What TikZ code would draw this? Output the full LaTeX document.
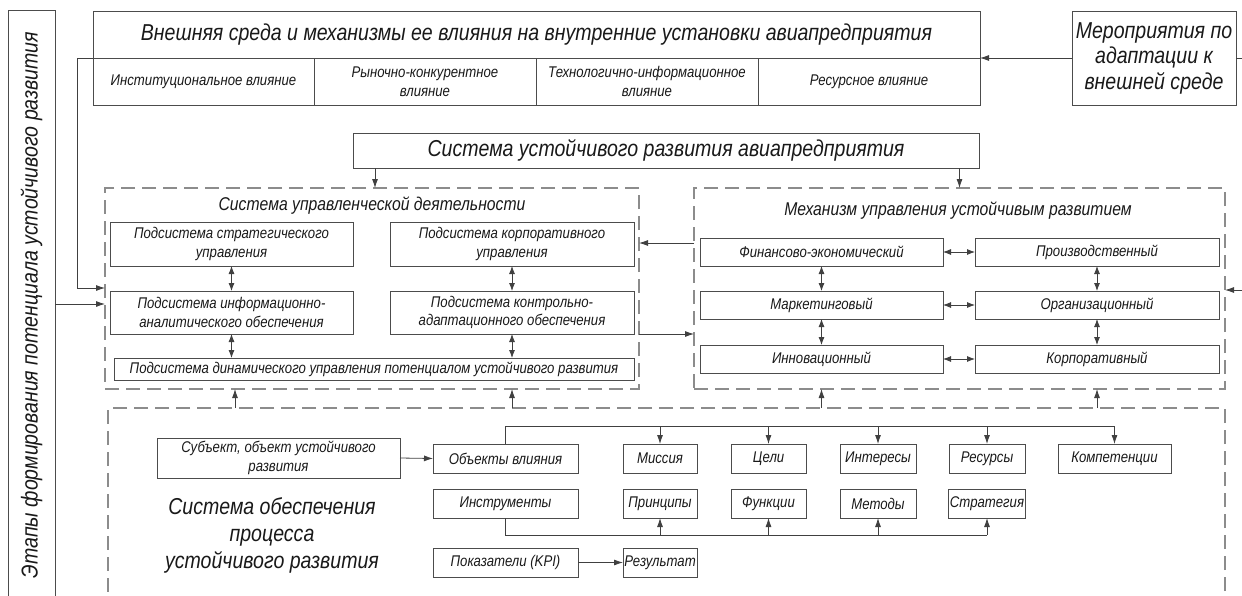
\documentclass[tikz,border=0pt]{standalone}
\usepackage{fontspec}
\setmainfont{Liberation Sans}[FakeStretch=0.85]
\usetikzlibrary{arrows.meta}
\newcommand\fbig{\fontsize{23}{26}\selectfont}
\newcommand\fmed{\fontsize{18.5}{21}\selectfont}
\newcommand\fsm{\fontsize{15.5}{18.5}\selectfont}
\begin{document}
\begin{tikzpicture}[x=1pt,y=-1pt,
  every node/.style={outer sep=0pt, inner sep=1pt, align=center, text=black!90},
  box/.style={draw=black!70, line width=0.9pt, font=\fsm\itshape},
  bx/.style 2 args={minimum width=#1pt, minimum height=#2pt},
  dbox/.style={draw=black!45, line width=1.1pt, dash pattern=on 14pt off 7pt},
  lbl/.style={font=\fmed\itshape},
  big/.style={font=\fbig\itshape},
  ln/.style={draw=black!75, line width=0.8pt},
  arr/.style={ln, -{Latex[length=9pt,width=6pt]}},
  darr/.style={ln, {Latex[length=8pt,width=6pt]}-{Latex[length=8pt,width=6pt]}}]
\useasboundingbox (0,0) rectangle (1242,595);
\clip (0,0) rectangle (1242,595);

% left vertical box
\node[box, big, rotate=90, bx={590}{47}] (stages) at (31.5,305) {Этапы формирования потенциала устойчивого развития};

% top environment box
\node[box, big, bx={887}{47}] (env) at (536.5,34.5) {Внешняя среда и механизмы ее влияния на внутренние установки авиапредприятия};
\node[box, bx={221}{47}] (c1) at (203.5,81.5) {Институциональное влияние};
\node[box, bx={222}{47}] (c2) at (425,81.5) {Рыночно-конкурентное\\влияние};
\node[box, bx={222}{47}] (c3) at (647,81.5) {Технологично-информационное\\влияние};
\node[box, bx={222}{47}] (c4) at (869,81.5) {Ресурсное влияние};

\node[box, big, bx={164}{94}, font=\fontsize{23}{25.5}\selectfont\itshape] (meas) at (1154,58) {Мероприятия по\\адаптации к\\внешней среде};

\node[box, big, bx={626}{35}] (sys) at (666,150.5) {Система устойчивого развития авиапредприятия};

% management system
\node[dbox, bx={534}{201}] (mgmt) at (372,288.5) {};
\node[lbl] (mgmtT) at (372,206) {Система управленческой деятельности};
\node[box, bx={243}{44}] (ps) at (231.5,244) {Подсистема стратегического\\управления};
\node[box, bx={244}{44}] (pc) at (512,244) {Подсистема корпоративного\\управления};
\node[box, bx={243}{43}] (pi) at (231.5,312.5) {Подсистема информационно-\\аналитического обеспечения};
\node[box, bx={244}{43}] (pk) at (512,312.5) {Подсистема контрольно-\\адаптационного обеспечения};
\node[box, bx={520}{22}] (pd) at (374,369) {Подсистема динамического управления потенциалом устойчивого развития};

% mechanism
\node[dbox, bx={531}{201}] (mech) at (959.5,288.5) {};
\node[lbl] (mechT) at (958,211) {Механизм управления устойчивым развитием};
\node[box, bx={243}{28}] (fe) at (821.5,252) {Финансово-экономический};
\node[box, bx={244}{28}] (pr) at (1097,252) {Производственный};
\node[box, bx={243}{28}] (mk) at (821.5,305) {Маркетинговый};
\node[box, bx={244}{28}] (org) at (1097,305) {Организационный};
\node[box, bx={243}{28}] (inn) at (821.5,359) {Инновационный};
\node[box, bx={244}{28}] (corp) at (1097,359) {Корпоративный};

% support system
\node[dbox, bx={1117}{200}] (supp) at (666.5,508) {};
\node[big, font=\fontsize{23}{27}\selectfont\itshape] (suppT) at (272,535) {Система обеспечения\\процесса\\устойчивого развития};
\node[box, bx={243}{40}] (subj) at (278.5,458) {Субъект, объект устойчивого\\развития};
\node[box, bx={145}{29}] (obj) at (505.5,458.5) {Объекты влияния};
\node[box, bx={74}{29}] (mis) at (660,458.5) {Миссия};
\node[box, bx={75}{29}] (goal) at (768.5,458.5) {Цели};
\node[box, bx={76}{29}] (intr) at (878,458.5) {Интересы};
\node[box, bx={76}{29}] (res) at (987,458.5) {Ресурсы};
\node[box, bx={113}{29}] (comp) at (1114.5,458.5) {Компетенции};
\node[box, bx={145}{29}] (ins) at (505.5,503.5) {Инструменты};
\node[box, bx={74}{29}] (pri) at (660,503.5) {Принципы};
\node[box, bx={75}{29}] (fun) at (768.5,503.5) {Функции};
\node[box, bx={76}{29}] (met) at (878,503.5) {Методы};
\node[box, bx={76}{29}] (str) at (987,503.5) {Стратегия};
\node[box, bx={145}{29}] (kpi) at (505.5,562.5) {Показатели (KPI)};
\node[box, bx={74}{29}] (resu) at (660,562.5) {Результат};

% helper coordinates
\coordinate (fb) at (77,58);
\coordinate (fby) at (0,288);
\coordinate (rout) at (1250,58);
\coordinate (rin) at (1250,290);
\coordinate (bus) at (0,426);
\coordinate (bot) at (0,535);

% connectors top
\draw[arr] (meas.west) -- (env.south east);
\draw[ln] (meas.east) -- (rout);
\draw[arr] (env.south west) -- (fb) |- (mgmt.west |- fby);
\draw[arr] (stages.south |- 0,304) -- (mgmt.west |- 0,304);
\draw[arr] (sys.south -| 375,0) -- (mgmt.north -| 375,0);
\draw[arr] (sys.south -| mech.north) -- (mech.north);

% management internal
\draw[darr] (ps.south) -- (pi.north);
\draw[darr] (pi.south) -- (pd.north -| pi.south);
\draw[darr] (pc.south) -- (pk.north);
\draw[darr] (pk.south) -- (pd.north -| pk.south);

% between mgmt and mech
\draw[arr] (mech.west |- 0,243) -- (mgmt.east |- 0,243);
\draw[arr] (mgmt.east |- pk.south) -- (mech.west |- pk.south);
\draw[arr] (rin) -- (mech.east |- rin);

% mechanism internal
\draw[darr] (fe.east) -- (pr.west);
\draw[darr] (mk.east) -- (org.west);
\draw[darr] (inn.east) -- (corp.west);
\draw[darr] (fe.south) -- (mk.north);
\draw[darr] (mk.south) -- (inn.north);
\draw[darr] (pr.south) -- (org.north);
\draw[darr] (org.south) -- (corp.north);

% support to upper systems
\draw[arr] (supp.north -| 235,0) -- (mgmt.south -| 235,0);
\draw[arr] (supp.north -| pk.south) -- (mgmt.south -| pk.south);
\draw[arr] (supp.north -| fe.south) -- (mech.south -| fe.south);
\draw[arr] (supp.north -| pr.south) -- (mech.south -| pr.south);

% support internal
\draw[arr] (subj.east) -- (obj.west);
\draw[ln] (obj.north) -- (obj.north |- bus) -- (comp.north |- bus);
\foreach \n in {mis,goal,intr,res,comp} \draw[arr] (\n.north |- bus) -- (\n.north);
\draw[ln] (ins.south) -- (ins.south |- bot) -- (str.south |- bot);
\foreach \n in {pri,fun,met,str} \draw[arr] (\n.south |- bot) -- (\n.south);
\draw[arr] (kpi.east) -- (resu.west);
\end{tikzpicture}
\end{document}
